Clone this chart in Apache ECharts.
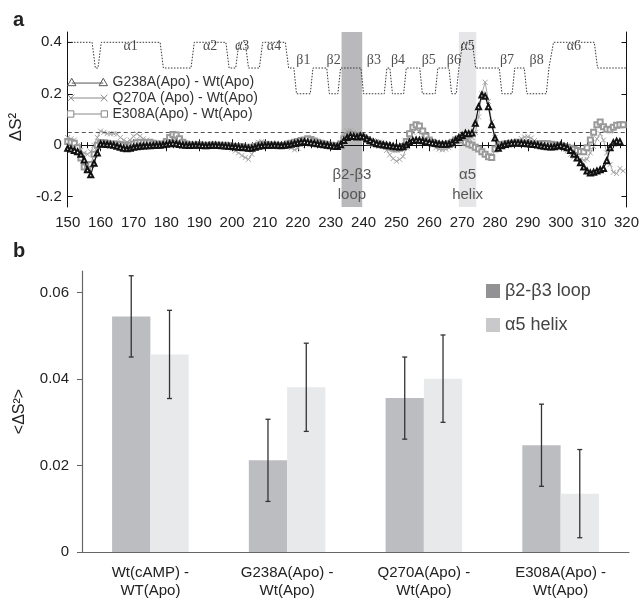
<!DOCTYPE html>
<html>
<head>
<meta charset="utf-8">
<script src="https://cdn.jsdelivr.net/npm/echarts@6/dist/echarts.min.js"></script>
<style>
  html, body { margin: 0; padding: 0; background: #fff; }
  #chart { width: 642px; height: 600px; }
</style>
</head>
<body>
<div id="chart"></div>
<script>
// ---------- panel a: per-residue order-parameter differences ----------
const firstResidue = 150;

const g238a = [
  -0.012,-0.015,-0.02,-0.025,-0.035,-0.057,-0.095,-0.115,-0.07,-0.03,
  0.005,0.004,0.003,0.002,0,-0.004,-0.008,-0.012,-0.014,-0.012,
  -0.008,-0.006,-0.004,-0.003,-0.002,-0.002,-0.001,0,0,0.002,
  0.004,0.006,0.008,0.006,0.003,0.001,0,-0.001,0,0.001,
  0,-0.001,-0.002,-0.001,0,0,-0.001,-0.002,-0.003,-0.004,
  -0.005,-0.006,-0.008,-0.009,-0.01,-0.012,-0.012,-0.008,-0.004,-0.002,
  0,0,0,0.001,0,-0.001,0,0.002,0.004,0.007,
  0.01,0.013,0.014,0.012,0.01,0.008,0.006,0.004,0.002,0,
  -0.002,-0.004,-0.005,0.002,0.018,0.03,0.036,0.034,0.032,0.036,
  0.033,0.025,0.018,0.012,0.007,0.004,0.002,0,-0.002,-0.004,
  -0.006,-0.007,-0.006,0.002,0.012,0.018,0.02,0.019,0.017,0.014,
  0.011,0.009,0.007,0.005,0.004,0.004,0.005,0.01,0.02,0.03,
  0.038,0.047,0.045,0.048,0.085,0.15,0.195,0.19,0.15,0.08,
  0.028,-0.012,-0.002,0.003,0.006,0.008,0.009,0.009,0.008,0.007,
  0.006,0.004,0.003,0.001,-0.002,-0.004,-0.006,-0.007,-0.006,-0.003,
  0,-0.005,-0.01,-0.02,-0.035,-0.05,-0.068,-0.085,-0.1,-0.108,
  -0.105,-0.1,-0.095,-0.09,-0.06,-0.01,0.01,0.016,0.014
];

const q270a = [
  0.03,0.025,0.02,0,-0.02,-0.03,-0.035,-0.025,0,0.03,
  0.055,0.05,0.045,0.044,0.045,0.043,0.03,0.02,0.012,0.02,
  0.035,0.045,0.035,0.025,0.02,0.01,0.008,0.01,0.005,0,
  0.005,0.015,0.03,0.025,0.015,0.005,0,0,0.002,0.004,
  0.002,0,-0.002,0,0.002,0.001,0,-0.002,-0.004,-0.008,
  -0.015,-0.022,-0.03,-0.04,-0.048,-0.055,-0.035,-0.01,0.012,0.014,
  0.008,0.004,0,-0.002,0,0.002,0,-0.005,-0.01,-0.018,
  -0.012,0,0.008,0.01,0.012,0.01,0.006,0.003,0,-0.003,
  -0.005,-0.006,-0.004,0.01,0.035,0.055,0.058,0.05,0.042,0.035,
  0.03,0.025,0.02,0.018,0.015,0.012,-0.005,-0.02,-0.037,-0.052,
  -0.062,-0.055,-0.044,-0.01,0.025,0.05,0.062,0.055,0.04,0.028,
  0.015,0,-0.01,-0.015,-0.018,-0.015,-0.01,0,0.012,0.022,
  0.03,0.033,0.028,0.03,0.05,0.11,0.2,0.245,0.17,0.09,
  0.03,0.005,0,0.002,0.004,0.006,0.01,0.018,0.026,0.032,
  0.033,0.028,0.018,0.008,0.003,0,-0.002,0,0.002,0,
  -0.005,-0.012,-0.022,-0.035,-0.045,-0.05,-0.055,-0.058,-0.055,-0.03,
  -0.005,0.025,0.045,0.02,-0.03,-0.075,-0.105,-0.11,-0.09,-0.1
];

const e308a = [
  0.015,0.012,0.008,-0.01,-0.05,-0.085,-0.09,-0.075,-0.035,0,
  0.01,0.01,0.008,0.005,0.004,0.005,0.003,0,-0.005,0,
  0.005,0.01,0.012,0.01,0.01,0.012,0.008,0.005,0.002,0.005,
  0.015,0.03,0.042,0.04,0.025,0.012,0.005,0.002,0,0,
  0.002,0,-0.002,0,0.001,0,0,-0.001,0,-0.002,
  -0.004,-0.005,-0.006,-0.006,-0.008,-0.01,-0.008,-0.005,0,0.004,
  0.003,0.002,0,0,-0.002,-0.003,0,0.005,0.008,0.012,
  0.015,0.018,0.02,0.025,0.022,0.016,0.012,0.008,0.005,0.002,
  0,-0.002,-0.003,0.005,0.025,0.038,0.042,0.04,0.038,0.036,
  0.03,0.022,0.014,0.008,0.004,0.002,0,-0.004,-0.008,-0.012,
  -0.015,-0.012,-0.005,0.015,0.045,0.07,0.08,0.075,0.055,0.035,
  0.02,0.012,0.006,0.003,0.002,0.003,0.006,0.012,0.02,0.025,
  0.02,0.012,0.005,0,-0.008,-0.015,-0.025,-0.035,-0.045,-0.048,
  -0.015,0,0.003,0.005,0.007,0.008,0.009,0.01,0.009,0.008,
  0.006,0.005,0.004,0.005,0.006,0.007,0.006,0.004,0.002,0,
  -0.002,-0.005,-0.008,-0.012,-0.016,-0.02,-0.024,-0.025,-0.01,0.02,
  0.05,0.08,0.09,0.072,0.062,0.06,0.07,0.078,0.08,0.08
];

const seriesNames = ['G238A(Apo) - Wt(Apo)', 'Q270A (Apo) - Wt(Apo)', 'E308A(Apo) - Wt(Apo)'];

// secondary structure elements: [label, kind, first residue, last residue]
const structure = [
  ['',   'helix',  146,   158.4],
  ['α1', 'helix',  159.2, 179.1],
  ['α2', 'helix',  187.5, 199.1],
  ['α3', 'helix',  201.1, 205.0],
  ['α4', 'helix',  208.3, 217.2],
  ['β1', 'strand', 218.8, 224.6],
  ['β2', 'strand', 228.8, 233.0],
  ['β3', 'strand', 239.2, 247.1],
  ['β4', 'strand', 248.0, 253.0],
  ['β5', 'strand', 257.1, 262.6],
  ['β6', 'strand', 266.0, 269.0],
  ['α5', 'helix',  269.2, 274.1],
  ['β7', 'strand', 281.3, 286.0],
  ['β8', 'strand', 288.9, 296.4],
  ['α6', 'helix',  296.8, 311.2]
];

// highlighted regions (residue ranges)
const loopRegion = [233.3, 239.6];
const helixRegion = [269.0, 274.3];

const xTicksA = { min: 150, max: 320, step: 10 };
const yTicksA = [-0.2, 0, 0.2, 0.4];

// ---------- panel b: region averages ----------
const categories = ['Wt(cAMP) -\nWT(Apo)', 'G238A(Apo) -\nWt(Apo)', 'Q270A(Apo) -\nWt(Apo)', 'E308A(Apo) -\nWt(Apo)'];
const loopMean  = [0.0545, 0.0212, 0.0356, 0.0247];
const loopErr   = [0.0094, 0.0095, 0.0095, 0.0095];
const helixMean = [0.0457, 0.0381, 0.0401, 0.0135];
const helixErr  = [0.0102, 0.0102, 0.0101, 0.0102];
const yTicksB = [0, 0.02, 0.04, 0.06];

// ---------- drawing ----------
const NARROW = "'Liberation Sans Narrow', 'Arial Narrow', 'Liberation Sans', Arial, sans-serif";
const SANS = "'Liberation Sans', Arial, Helvetica, sans-serif";
const SERIF = "'Liberation Serif', 'Times New Roman', 'DejaVu Serif', serif";

const baseLevel = 0.3, helixLevel = 0.4, strandLevel = 0.2;
const ssOutline = [];
structure.forEach(([label, kind, from, to]) => {
  const top = kind === 'helix' ? helixLevel : strandLevel;
  const ramp = kind === 'helix' ? 1.0 : 0.8;
  ssOutline.push([from, baseLevel], [from + ramp, top], [to - ramp, top], [to, baseLevel]);
});
ssOutline.push([xTicksA.max, baseLevel]);

const ssLabels = structure.filter(s => s[0]).map(s => ({
  name: s[0],
  value: [(s[2] + s[3]) / 2, s[1] === 'helix' ? 0.383 : 0.328]
}));

const toPoints = vals => vals.map((v, i) => [firstResidue + i, v]);

const barWidthRatio = 0.28;
function errorBars(sign) {
  return function (params, api) {
    const i = api.value(0);
    const lo = api.coord([i, api.value(1)]);
    const hi = api.coord([i, api.value(2)]);
    const band = api.size([1, 0])[0];
    const cx = lo[0] + sign * band * barWidthRatio / 2;
    const cap = 2.5;
    const st = { stroke: '#333', lineWidth: 1.3 };
    return {
      type: 'group',
      children: [
        { type: 'line', shape: { x1: cx, y1: hi[1], x2: cx, y2: lo[1] }, style: st },
        { type: 'line', shape: { x1: cx - cap, y1: hi[1], x2: cx + cap, y2: hi[1] }, style: st },
        { type: 'line', shape: { x1: cx - cap, y1: lo[1], x2: cx + cap, y2: lo[1] }, style: st }
      ]
    };
  };
}

const chart = echarts.init(document.getElementById('chart'));

const option = {
  animation: false,
  backgroundColor: '#fff',
  title: [
    { text: 'a', left: 8, top: 5, textStyle: { fontSize: 20, fontWeight: 'bold', color: '#222', fontFamily: SANS } },
    { text: 'b', left: 8, top: 236, textStyle: { fontSize: 20, fontWeight: 'bold', color: '#222', fontFamily: SANS } }
  ],
  legend: [
    {
      orient: 'vertical', left: 62, top: 70,
      itemWidth: 40, itemHeight: 10, itemGap: 2,
      textStyle: { fontSize: 14, color: '#333', fontFamily: SANS, lineHeight: 14 },
      data: [
        { name: seriesNames[0], icon: 'path://M1,9L5,2L9,9Z M5,6.5L35,6.5 M31,9L35,2L39,9Z',
          itemStyle: { color: '#fff', borderColor: '#555', borderWidth: 1 } },
        { name: seriesNames[1], icon: 'path://M2,3L8,9M8,3L2,9M5,6L35,6M32,3L38,9M38,3L32,9',
          itemStyle: { color: '#fff', borderColor: '#888', borderWidth: 1 } },
        { name: seriesNames[2], icon: 'path://M1,3H7V9H1Z M7,6H33 M33,3H39V9H33Z',
          itemStyle: { color: '#fff', borderColor: '#888', borderWidth: 1 } }
      ]
    },
    {
      orient: 'vertical', left: 481, top: 276,
      itemWidth: 14, itemHeight: 14, itemGap: 14,
      textStyle: { fontSize: 18, color: '#444', fontFamily: SANS, lineHeight: 20 },
      data: [
        { name: 'β2-β3 loop', icon: 'rect', itemStyle: { color: '#929295' } },
        { name: 'α5 helix', icon: 'rect', itemStyle: { color: '#c9c9cb' } }
      ]
    }
  ],
  grid: [
    { left: 55, top: 32, width: 574, height: 175 },
    { left: 82, top: 271, width: 547, height: 285 }
  ],
  xAxis: [
    {
      gridIndex: 0, type: 'value', position: 'bottom',
      min: xTicksA.min, max: xTicksA.max, interval: xTicksA.step,
      axisLine: { lineStyle: { color: '#111', width: 1 } },
      axisTick: { inside: true, length: 6, lineStyle: { color: '#111' } },
      minorTick: { show: true, splitNumber: 5, length: 3, lineStyle: { color: '#111' } },
      splitLine: { show: false },
      axisLabel: { fontSize: 15, color: '#222', fontFamily: NARROW, margin: 8 }
    },
    {
      gridIndex: 0, type: 'value', position: 'top',
      min: xTicksA.min, max: xTicksA.max, interval: xTicksA.step,
      axisLine: { lineStyle: { color: '#111', width: 1 } },
      axisTick: { inside: true, length: 6, lineStyle: { color: '#111' } },
      minorTick: { show: true, splitNumber: 5, length: 3, lineStyle: { color: '#111' } },
      splitLine: { show: false },
      axisLabel: { show: false }
    },
    {
      gridIndex: 1, type: 'category', data: categories,
      axisLine: { lineStyle: { color: '#666', width: 1.2 } },
      axisTick: { length: 5, lineStyle: { color: '#666' } },
      axisLabel: { fontSize: 15, color: '#222', fontFamily: SANS, lineHeight: 18, margin: 12 }
    }
  ],
  yAxis: [
    {
      gridIndex: 0, type: 'value', position: 'left', min: -0.24, max: 0.44,
      name: 'ΔS²', nameLocation: 'middle', nameGap: 31, nameRotate: 90,
      nameTextStyle: { fontSize: 17, color: '#222', fontFamily: SANS, padding: [0, 15, 0, 0] },
      axisLine: { show: true, lineStyle: { color: '#111', width: 1 } },
      axisTick: { show: true, inside: true, length: 5, customValues: yTicksA, lineStyle: { color: '#111' } },
      axisLabel: { customValues: yTicksA, fontSize: 15, color: '#222', fontFamily: NARROW, margin: 6,
        formatter: v => (v === 0 ? '0' : String(v)) },
      splitLine: { show: false }
    },
    {
      gridIndex: 0, type: 'value', position: 'right', min: -0.24, max: 0.44,
      axisLine: { show: true, lineStyle: { color: '#111', width: 1 } },
      axisTick: { show: true, inside: true, length: 5, customValues: yTicksA, lineStyle: { color: '#111' } },
      axisLabel: { show: false },
      splitLine: { show: false }
    },
    {
      gridIndex: 1, type: 'value', min: 0, max: 0.065,
      name: '<ΔS²>', nameLocation: 'middle', nameGap: 54, nameRotate: 90,
      nameTextStyle: { fontSize: 16, color: '#222', fontFamily: SANS },
      axisLine: { show: true, lineStyle: { color: '#666', width: 1.2 } },
      axisTick: { show: true, length: 5, customValues: yTicksB, lineStyle: { color: '#666' } },
      axisLabel: { customValues: yTicksB, fontSize: 15, color: '#222', fontFamily: SANS, margin: 13,
        formatter: v => (v === 0 ? '0' : v.toFixed(2)) },
      splitLine: { show: false }
    }
  ],
  series: [
    {
      name: 'regions', type: 'line', xAxisIndex: 0, yAxisIndex: 0, data: [], z: 0, silent: true,
      markArea: {
        silent: true,
        label: { position: 'insideBottom', distance: 2, fontSize: 15, lineHeight: 20, color: '#555', fontFamily: SANS },
        data: [
          [{ name: 'β2-β3\nloop', xAxis: loopRegion[0], itemStyle: { color: '#b9b9bc' } }, { xAxis: loopRegion[1] }],
          [{ name: 'α5\nhelix', xAxis: helixRegion[0], itemStyle: { color: '#e6e6e8' } }, { xAxis: helixRegion[1] }]
        ]
      }
    },
    {
      name: 'structure', type: 'line', xAxisIndex: 0, yAxisIndex: 0, z: 1, silent: true,
      data: ssOutline, showSymbol: false, symbol: 'none',
      lineStyle: { color: '#333', width: 1, type: [1.5, 1.5] },
      markLine: {
        silent: true, symbol: 'none', label: { show: false },
        data: [
          { yAxis: 0, lineStyle: { type: 'solid', color: '#111', width: 1 } },
          { yAxis: 0.05, lineStyle: { type: [4, 3], color: '#555', width: 1 } }
        ]
      }
    },
    {
      name: 'labels', type: 'scatter', xAxisIndex: 0, yAxisIndex: 0, z: 3, silent: true,
      symbolSize: 0, data: ssLabels,
      label: { show: true, position: 'inside', formatter: '{b}', fontSize: 14, color: '#222', fontFamily: SERIF }
    },
    {
      name: seriesNames[1], type: 'line', xAxisIndex: 0, yAxisIndex: 0, z: 4,
      data: toPoints(q270a), showAllSymbol: true,
      symbol: 'path://M0,0L10,10M10,0L0,10', symbolSize: 5,
      itemStyle: { color: '#a6a6a6', borderColor: '#a6a6a6', borderWidth: 1 },
      lineStyle: { color: '#a6a6a6', width: 1 }
    },
    {
      name: seriesNames[2], type: 'line', xAxisIndex: 0, yAxisIndex: 0, z: 5,
      data: toPoints(e308a), showAllSymbol: true,
      symbol: 'emptyRect', symbolSize: 5,
      itemStyle: { color: '#999', borderWidth: 1 },
      lineStyle: { color: '#999', width: 1 }
    },
    {
      name: seriesNames[0], type: 'line', xAxisIndex: 0, yAxisIndex: 0, z: 6,
      data: toPoints(g238a), showAllSymbol: true,
      symbol: 'emptyTriangle', symbolSize: 5,
      itemStyle: { color: '#111', borderWidth: 1 },
      lineStyle: { color: '#111', width: 1.2 }
    },
    {
      name: 'β2-β3 loop', type: 'bar', xAxisIndex: 2, yAxisIndex: 2,
      data: loopMean, barWidth: (barWidthRatio * 100) + '%', barGap: '0%',
      itemStyle: { color: '#bcbdc0' }
    },
    {
      name: 'α5 helix', type: 'bar', xAxisIndex: 2, yAxisIndex: 2,
      data: helixMean, barWidth: (barWidthRatio * 100) + '%', barGap: '0%',
      itemStyle: { color: '#e8e9eb' }
    },
    {
      name: 'loop error', type: 'custom', xAxisIndex: 2, yAxisIndex: 2, z: 10, silent: true,
      renderItem: errorBars(-1),
      encode: { x: 0, y: [1, 2] },
      data: loopMean.map((m, i) => [i, m - loopErr[i], m + loopErr[i]])
    },
    {
      name: 'helix error', type: 'custom', xAxisIndex: 2, yAxisIndex: 2, z: 10, silent: true,
      renderItem: errorBars(1),
      encode: { x: 0, y: [1, 2] },
      data: helixMean.map((m, i) => [i, m - helixErr[i], m + helixErr[i]])
    }
  ]
};

chart.setOption(option);
</script>
</body>
</html>
